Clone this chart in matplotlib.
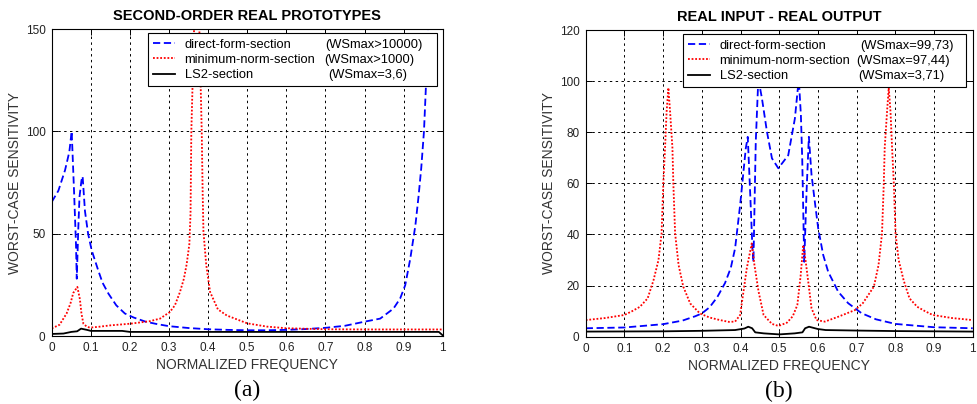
import matplotlib
matplotlib.use("Agg")
import matplotlib.pyplot as plt

# ---------------- data (panel a) ----------------
fa_direct = [0, 0.017, 0.034, 0.045, 0.051, 0.057, 0.062, 0.064, 0.068, 0.071, 0.076, 0.079,
             0.085, 0.093, 0.102, 0.119, 0.13, 0.145, 0.165, 0.187, 0.21, 0.24, 0.27, 0.30,
             0.35, 0.40, 0.45, 0.50, 0.55, 0.60, 0.65, 0.70, 0.75, 0.80, 0.84, 0.874,
             0.891, 0.904, 0.917, 0.930, 0.938, 0.945, 0.952, 0.957, 0.962, 0.97, 0.98, 1.0]
wa_direct = [65.5, 71, 81, 90, 100, 71, 45, 28, 53, 68, 76, 78,
             61, 50, 42, 32, 26, 20.7, 15, 11, 9, 7, 5.8, 4.8,
             3.9, 3.3, 3.0, 2.8, 2.8, 3.0, 3.4, 4.0, 5.0, 7.0, 8.5, 13.4,
             18.3, 24.8, 37.8, 54, 68, 82, 100, 122, 150, 300, 1000, 10000]

fa_minnorm = [0, 0.02, 0.038, 0.048, 0.055, 0.0655, 0.072, 0.076, 0.081, 0.09, 0.098, 0.12,
              0.15, 0.20, 0.25, 0.277, 0.302, 0.315, 0.328, 0.338, 0.345, 0.352, 0.355,
              0.357, 0.364, 0.370, 0.3775, 0.3836, 0.386, 0.388, 0.395, 0.405, 0.425,
              0.448, 0.50, 0.55, 0.60, 0.70, 0.80, 0.90, 1.0]
wa_minnorm = [3.7, 5.5, 11, 16, 21, 24, 18, 11, 6, 4.5, 4.1, 4.5,
              5.2, 6.0, 7.2, 8.5, 11.7, 15, 21.5, 28, 35, 45, 60,
              100, 150, 1000, 150, 100, 70, 51, 35, 21.5, 13,
              10, 6.2, 4.6, 3.8, 3.3, 3.2, 3.2, 3.2]

fa_ls2 = [0, 0.03, 0.05, 0.065, 0.075, 0.09, 0.10, 0.15, 0.18, 0.20, 0.30, 0.50, 0.70,
          0.90, 0.99, 1.0]
wa_ls2 = [1.0, 1.2, 2.0, 2.3, 3.6, 3.0, 2.5, 2.5, 2.5, 2.0, 2.0, 2.0, 2.0,
          2.0, 2.0, 0.3]

# ---------------- data (panel b) ----------------
fb_direct = [0, 0.10, 0.20, 0.25, 0.283, 0.30, 0.32, 0.34, 0.36, 0.375, 0.386, 0.399,
             0.4076, 0.4136, 0.4187, 0.4248, 0.4308, 0.4334, 0.436, 0.4394, 0.445, 0.4475,
             0.4553, 0.4683, 0.4812, 0.4977, 0.5233, 0.5405, 0.548, 0.551, 0.556, 0.5594,
             0.562, 0.5646, 0.5706, 0.5766, 0.5835, 0.592, 0.6007, 0.6136, 0.6265, 0.6524,
             0.6782, 0.7127, 0.75, 0.80, 0.90, 1.0]
wb_direct = [3.3, 3.6, 4.9, 6.3, 8.0, 9.1, 11.5, 15.5, 21, 27, 34.6, 51.5,
             64.6, 73.7, 78.2, 56.7, 34.6, 29.3, 50, 76.3, 97.2, 99.7,
             93.3, 80.2, 69.8, 65.9, 71, 85.4, 97, 99.7, 86.7, 69.8,
             50, 29.3, 56.7, 78.2, 63.3, 52.8, 42.4, 32, 25.4, 17.6,
             13.1, 9.2, 6.8, 5.0, 3.7, 3.3]

fb_minnorm = [0, 0.05, 0.10, 0.12, 0.14, 0.16, 0.175, 0.188, 0.196, 0.2005, 0.205, 0.209,
              0.2136, 0.218, 0.224, 0.2264, 0.231, 0.24, 0.252, 0.27, 0.295, 0.32, 0.347,
              0.37, 0.386, 0.399, 0.4076, 0.4162, 0.4248, 0.429, 0.436, 0.4467, 0.4596,
              0.4812, 0.4984, 0.52, 0.535, 0.5468, 0.5554, 0.562, 0.568, 0.575, 0.5835,
              0.5964, 0.618, 0.6524, 0.6955, 0.716, 0.7446, 0.7566, 0.7656, 0.7702,
              0.7726, 0.7786, 0.783, 0.7876, 0.7916, 0.7961, 0.8006, 0.8086, 0.8216,
              0.8366, 0.8566, 0.8766, 0.8966, 0.9466, 1.0]
wb_minnorm = [6.5, 7.3, 8.5, 10, 11.7, 15, 22, 30, 40.4, 60, 74, 88,
              97.4, 88, 74, 60, 40.4, 28, 19.6, 13, 9.1, 7.5, 6.5,
              5.8, 5.9, 8.5, 17.6, 26.8, 33.3, 36.5, 28, 17.6, 8.5,
              5.0, 4.2, 5.5, 8.0, 12.4, 24, 35.9, 30, 21.5, 11.1,
              6.5, 5.9, 7.8, 10.4, 13.1, 19.6, 28, 40.4, 60,
              74, 88, 97.4, 88, 74, 60, 40.4, 30, 22,
              15, 11.7, 10, 8.5, 7.3, 6.5]

fb_ls2 = [0, 0.20, 0.30, 0.386, 0.41, 0.42, 0.43, 0.438, 0.46, 0.50, 0.54, 0.56, 0.567,
          0.577, 0.60, 0.62, 0.70, 0.80, 1.0]
wb_ls2 = [2.0, 2.1, 2.3, 2.6, 3.2, 3.9, 3.3, 1.7, 1.3, 0.9, 1.3, 1.7, 3.3,
          3.9, 3.0, 2.6, 2.4, 2.2, 2.0]

titles = ["SECOND-ORDER REAL PROTOTYPES", "REAL INPUT - REAL OUTPUT"]
series_names = ["direct-form-section", "minimum-norm-section", "LS2-section"]
ws_a = ["(WSmax>10000)", "(WSmax>1000)", "(WSmax=3,6)"]
ws_b = ["(WSmax=99,73)", "(WSmax=97,44)", "(WSmax=3,71)"]
xticks = [0, 0.1, 0.2, 0.3, 0.4, 0.5, 0.6, 0.7, 0.8, 0.9, 1]
xticklabels = ["0", "0.1", "0.2", "0.3", "0.4", "0.5", "0.6", "0.7", "0.8", "0.9", "1"]
yticks_a = [0, 50, 100, 150]
yticks_b = [0, 20, 40, 60, 80, 100, 120]
panel_labels = ["(a)", "(b)"]

# ---------------- styling ----------------
plt.rcParams['font.family'] = ['Liberation Sans', 'DejaVu Sans']

fig = plt.figure(figsize=(9.78, 4.04), dpi=100)
ax_a = fig.add_axes([0.0529, 0.1683, 0.3998, 0.7599])
ax_b = fig.add_axes([0.5989, 0.1666, 0.3957, 0.7591])

blue_ls = (0, (4, 2))
red_ls = (0, (1.0, 1.0))
LEG_FS = 9.3


def style(ax, data, ylim, yticks, title, legbox, plabel):
    (fd, wd), (fm, wm), (fl, wl) = data
    h1, = ax.plot(fd, wd, color='#0000ff', lw=1.3, linestyle=blue_ls, label=series_names[0])
    h2, = ax.plot(fm, wm, color='#ff0000', lw=1.3, linestyle=red_ls, label=series_names[1])
    h3, = ax.plot(fl, wl, color='black', lw=1.3, label=series_names[2])
    ax.set_xlim(0, 1)
    ax.set_ylim(*ylim)
    ax.set_xticks(xticks)
    ax.set_xticklabels(xticklabels)
    ax.set_yticks(yticks)
    ax.grid(True, color='black', linestyle=(0, (2.5, 3.5)), linewidth=0.7)
    ax.tick_params(direction='in', top=True, right=True, length=4, width=0.7,
                   labelsize=8.5, labelcolor='#222222', pad=4.5)
    for s in ax.spines.values():
        s.set_linewidth(0.8)
    ax.set_title(title, fontsize=10.5, fontweight='bold', pad=6.5)
    ax.set_xlabel("NORMALIZED FREQUENCY", fontsize=10, color='#333333', labelpad=3)
    ax.set_ylabel("WORST-CASE SENSITIVITY", fontsize=10, color='#333333', labelpad=2.5)
    leg = ax.legend(handles=[h1, h2, h3], loc='upper left',
                    bbox_to_anchor=legbox, mode='expand',
                    borderaxespad=0, fontsize=LEG_FS, handlelength=1.75, handletextpad=0.7,
                    borderpad=0.4, labelspacing=0.25, fancybox=False, framealpha=1,
                    edgecolor='black')
    leg.get_frame().set_linewidth(0.8)
    ax.text(0.5, -0.177, plabel, transform=ax.transAxes, ha='center', va='center',
            fontsize=17, family=['Liberation Serif', 'DejaVu Serif'])
    return leg


leg_a = style(ax_a, [(fa_direct, wa_direct), (fa_minnorm, wa_minnorm), (fa_ls2, wa_ls2)],
              (0, 150), yticks_a, titles[0], (0.2455, 0.8164, 0.7392, 0.1696),
              panel_labels[0])
leg_b = style(ax_b, [(fb_direct, wb_direct), (fb_minnorm, wb_minnorm), (fb_ls2, wb_ls2)],
              (0, 120), yticks_b, titles[1], (0.2506, 0.8174, 0.7321, 0.1686),
              panel_labels[1])

# place the WSmax annotations on the same rows as the legend entries
fig.canvas.draw()
for ax, leg, ws, xs in [(ax_a, leg_a, ws_a, [0.699, 0.697, 0.7075]),
                        (ax_b, leg_b, ws_b, [0.709, 0.700, 0.704])]:
    inv = ax.transAxes.inverted()
    for t, txt, x in zip(leg.get_texts(), ws, xs):
        bb = t.get_window_extent()
        yc = inv.transform(((bb.x0 + bb.x1) / 2, (bb.y0 + bb.y1) / 2))[1]
        ax.text(x, yc, txt, transform=ax.transAxes, fontsize=LEG_FS, va='center',
                ha='left', zorder=10)

fig.savefig("out.png", dpi=100)
